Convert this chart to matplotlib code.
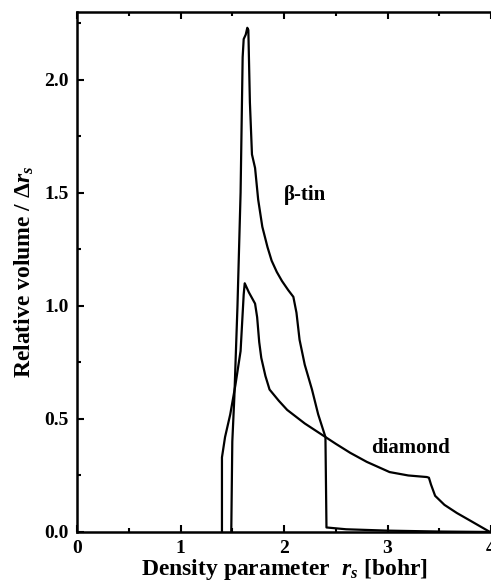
import matplotlib
matplotlib.use("Agg")
import matplotlib.pyplot as plt
from matplotlib.ticker import MultipleLocator

plt.rcParams['font.family'] = 'Liberation Serif'
plt.rcParams['font.weight'] = 'bold'
plt.rcParams['mathtext.fontset'] = 'custom'
plt.rcParams['mathtext.rm'] = 'Liberation Serif:bold'
plt.rcParams['mathtext.it'] = 'Liberation Serif:bold:italic'

# beta-tin volume distribution
tin_rs = [1.49, 1.50, 1.52, 1.55, 1.58, 1.60, 1.61, 1.63, 1.645, 1.655, 1.67,
          1.69, 1.72, 1.75, 1.79, 1.84, 1.88, 1.93, 1.98, 2.04, 2.09, 2.12,
          2.15, 2.20, 2.27, 2.33, 2.40, 2.41, 2.6, 3.0, 3.5, 4.0]
tin_vol = [0.0, 0.4, 0.6, 1.0, 1.5, 2.1, 2.18, 2.2, 2.23, 2.22, 1.9,
           1.67, 1.61, 1.47, 1.35, 1.26, 1.20, 1.15, 1.11, 1.07, 1.04, 0.97,
           0.85, 0.74, 0.63, 0.52, 0.42, 0.02, 0.012, 0.006, 0.002, 0.0]

# diamond volume distribution
dia_rs = [1.40, 1.40, 1.43, 1.48, 1.53, 1.58, 1.61, 1.62, 1.66, 1.72, 1.74,
          1.76, 1.78, 1.82, 1.86, 1.95, 2.03, 2.20, 2.40, 2.50, 2.64, 2.80,
          3.02, 3.20, 3.38, 3.40, 3.42, 3.46, 3.55, 3.67, 3.80, 3.99]
dia_vol = [0.0, 0.33, 0.42, 0.52, 0.65, 0.80, 1.05, 1.10, 1.06, 1.01, 0.95,
           0.84, 0.77, 0.69, 0.63, 0.58, 0.54, 0.48, 0.42, 0.39, 0.35, 0.31,
           0.265, 0.25, 0.243, 0.24, 0.21, 0.16, 0.12, 0.084, 0.05, 0.0]

fig = plt.figure(figsize=(4.91, 5.83), dpi=100)
ax = fig.add_axes([0.157, 0.0875, 0.843, 0.892])

ax.plot(tin_rs, tin_vol, color='black', lw=1.6)
ax.plot(dia_rs, dia_vol, color='black', lw=1.6)

ax.text(2.2, 1.49, 'β-tin', fontsize=15, fontweight='bold',
        ha='center', va='center')
ax.text(3.22, 0.37, 'diamond', fontsize=15, fontweight='bold',
        ha='center', va='center')

ax.set_xlim(0, 4)
ax.set_ylim(0, 2.3)
ax.xaxis.set_major_locator(MultipleLocator(1))
ax.xaxis.set_minor_locator(MultipleLocator(0.5))
ax.yaxis.set_major_locator(MultipleLocator(0.5))
ax.yaxis.set_minor_locator(MultipleLocator(0.25))
ax.yaxis.set_major_formatter(plt.FormatStrFormatter('%.1f'))
ax.tick_params(which='both', direction='in', top=True, right=False,
               width=1.5, labelsize=14)
ax.tick_params(which='major', length=5, pad=6)
ax.tick_params(which='minor', length=3)
for s in ['left', 'bottom', 'top']:
    ax.spines[s].set_linewidth(1.8)
ax.spines['right'].set_visible(False)

ax.set_xlabel(r'Density parameter  $r_s$ [bohr]', fontsize=17,
              fontweight='bold', labelpad=0)
ax.set_ylabel(r'Relative volume / $\Delta r_s$', fontsize=17,
              fontweight='bold', labelpad=6)

fig.savefig('out.png', dpi=100)
